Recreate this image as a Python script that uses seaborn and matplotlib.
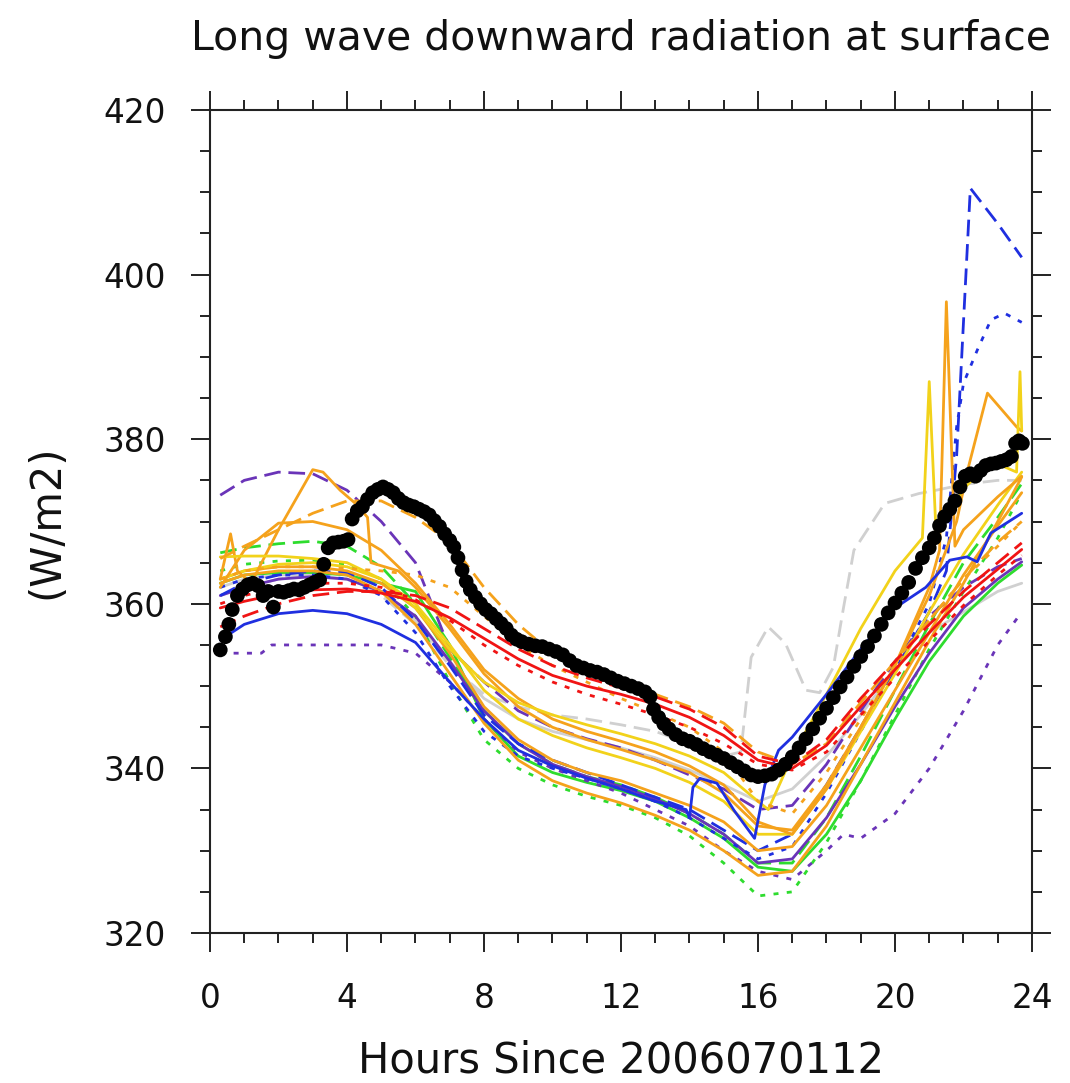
import matplotlib
matplotlib.use("Agg")
import matplotlib.pyplot as plt
from matplotlib.ticker import MultipleLocator
import pandas as pd
import seaborn as sns

# ---------------------------------------------------------------------------
# Hourly model output (W/m2) on a common time axis
# ---------------------------------------------------------------------------
hours = [0.3, 1, 2, 3, 4, 5, 6, 7, 8, 9, 10, 11, 12, 13, 14, 15, 16, 17, 18,
         19, 20, 21, 22, 23, 23.7]

red_dash = [357.2, 358.5, 360.0, 361.0, 361.5, 361.5, 361.0, 359.5, 357.0, 354.5,
            352.5, 351.0, 349.8, 348.7, 347.2, 345.0, 341.5, 340.5, 343.5, 348.5,
            353.0, 357.5, 361.5, 365.0, 367.4]
red_solid = [359.5, 360.3, 361.2, 361.7, 361.8, 361.3, 360.3, 358.3, 355.8, 353.3,
             351.3, 350.0, 349.0, 347.8, 346.2, 344.0, 341.0, 340.0, 342.8, 347.5,
             352.0, 356.5, 360.8, 364.2, 366.6]
red_dot = [360.0, 361.0, 362.0, 362.5, 362.5, 362.0, 360.5, 358.0, 355.0, 352.5,
           350.5, 349.0, 347.8, 346.5, 345.0, 343.0, 340.5, 339.8, 342.0, 346.5,
           351.0, 355.5, 359.8, 363.5, 365.9]
orange_dot = [363.0, 364.0, 364.5, 364.5, 364.3, 364.0, 363.5, 362.0, 358.5, 355.0,
              352.5, 350.5, 348.5, 346.8, 345.0, 342.0, 336.0, 334.5, 339.5, 346.0,
              352.5, 358.0, 363.0, 367.0, 370.0]
orange_dash = [365.5, 367.0, 369.0, 371.0, 372.5, 372.5, 370.5, 367.5, 362.0, 357.5,
               354.0, 352.0, 350.5, 349.0, 347.5, 345.5, 342.0, 340.5, 343.0, 348.0,
               353.0, 358.0, 363.0, 367.5, 370.0]
orange_c = [363.0, 364.0, 364.5, 364.5, 364.0, 362.5, 359.5, 354.0, 347.5, 343.5,
            341.0, 339.5, 338.5, 337.0, 335.5, 333.5, 330.0, 330.5, 335.5, 342.5,
            349.5, 356.5, 363.5, 369.5, 373.5]
orange_d = [362.5, 363.5, 364.0, 364.0, 363.5, 361.5, 357.5, 351.5, 345.5, 341.0,
            338.5, 337.0, 335.8, 334.3, 332.5, 330.0, 327.0, 327.5, 333.0, 340.5,
            348.0, 355.5, 362.5, 370.0, 375.4]
yellow_b = [363.0, 364.0, 364.8, 365.0, 364.5, 363.0, 360.0, 355.0, 349.5, 346.0,
            344.0, 342.5, 341.3, 340.0, 338.3, 336.0, 332.0, 332.0, 337.5, 344.5,
            351.5, 359.0, 366.0, 372.0, 376.0]
green_solid = [362.5, 363.5, 363.8, 363.8, 363.5, 362.5, 361.5, 355.0, 346.0, 341.5,
               339.5, 338.3, 337.3, 336.0, 334.0, 331.5, 328.0, 327.5, 332.0, 338.5,
               346.0, 353.0, 358.5, 362.5, 364.7]
green_dash = [366.2, 366.8, 367.3, 367.6, 367.0, 364.5, 360.0, 353.5, 347.0, 343.0,
              340.5, 339.0, 338.0, 336.5, 334.5, 332.0, 328.5, 328.5, 334.0, 341.5,
              349.5, 357.5, 365.0, 370.5, 374.6]
green_dot = [364.0, 364.8, 365.2, 365.3, 364.8, 363.0, 358.5, 350.5, 343.5, 340.0,
             338.0, 336.6, 335.5, 334.0, 331.8, 328.5, 324.5, 325.0, 331.0, 338.5,
             346.5, 354.5, 361.5, 368.0, 373.5]
purple_solid = [361.0, 362.0, 363.0, 363.3, 363.0, 361.5, 358.5, 353.0, 347.0, 343.0,
                340.5, 339.0, 337.8, 336.3, 334.5, 332.0, 328.5, 329.0, 334.0, 340.5,
                347.5, 354.0, 359.5, 363.0, 365.1]
purple_dash = [373.2, 375.0, 376.0, 375.8, 373.8, 370.0, 365.0, 354.5, 350.5, 347.0,
               345.0, 343.6, 342.5, 341.0, 339.2, 337.5, 335.0, 335.5, 340.5, 347.0,
               353.0, 358.5, 362.0, 364.5, 365.5]
gray_solid = [362.0, 363.0, 363.5, 363.5, 363.0, 361.5, 358.0, 353.0, 348.5, 346.0,
              344.5, 343.5, 342.5, 341.3, 339.8, 338.0, 336.0, 337.5, 341.5, 346.5,
              352.0, 356.5, 359.0, 361.5, 362.5]

# Runs with their own time stamps (sharp spikes late in the day)
orange_a_hours = [0.3, 0.6, 0.8, 1.2, 2.0, 3.0, 3.3, 3.8, 4.3, 4.6, 4.7, 5.5, 6, 7,
                  8, 9, 10, 11, 12, 13, 14, 15, 16, 17, 18, 19, 20, 21, 21.3, 21.5,
                  21.75, 22, 23, 23.7]
orange_a = [363.0, 368.5, 364.0, 362.5, 369.0, 376.3, 376.0, 373.8, 372.0, 370.5,
            365.0, 364.0, 362.0, 357.0, 351.5, 347.5, 345.0, 343.5, 342.3, 341.0,
            339.5, 337.0, 333.0, 332.5, 338.0, 345.0, 352.5, 362.0, 366.5, 396.7,
            367.0, 369.0, 373.0, 375.5]

orange_b_hours = [0.3, 1, 2, 3, 4, 5, 6, 7, 8, 9, 10, 11, 12, 13, 14, 15, 16, 17,
                  18, 19, 20, 21, 21.8, 22.1, 22.7, 23.55, 23.7]
orange_b = [362.0, 366.5, 369.8, 370.0, 369.0, 366.5, 362.5, 357.5, 352.0, 348.5,
            346.0, 344.5, 343.3, 342.0, 340.3, 338.0, 333.5, 332.0, 337.5, 345.0,
            352.5, 361.0, 370.0, 375.9, 385.6, 381.5, 381.0]

yellow_a_hours = [0.3, 1, 2, 3, 4, 5, 6, 7, 8, 9, 10, 11, 12, 13, 14, 15, 16, 16.3,
                  17, 18, 19, 20, 20.8, 21.0, 21.2, 21.6, 22, 22.5, 23, 23.55,
                  23.65, 23.7]
yellow_a = [365.7, 365.8, 365.8, 365.5, 365.0, 363.0, 359.5, 354.5, 350.5, 348.0,
            346.5, 345.3, 344.2, 343.0, 341.5, 339.5, 336.0, 335.0, 341.5, 349.0,
            357.0, 364.0, 368.0, 387.0, 368.5, 371.0, 374.0, 376.0, 377.0, 376.0,
            388.2, 381.0]

blue_solid_hours = [0.3, 1, 2, 3, 4, 5, 6, 7, 8, 9, 10, 11, 12, 13, 13.9, 14.0, 14.1,
                    14.3, 14.8, 15.3, 15.9, 16.2, 16.6, 17, 18, 19, 20, 20.9, 21.6,
                    22.1, 22.4, 22.8, 23.7]
blue_solid = [355.6, 357.5, 358.8, 359.2, 358.8, 357.5, 355.3, 350.5, 346.0, 342.2,
              340.3, 338.8, 337.5, 336.0, 335.0, 334.0, 337.7, 338.8, 338.2, 334.9,
              331.5, 338.0, 342.2, 343.8, 349.0, 354.5, 359.5, 362.0, 365.3, 365.7,
              365.1, 368.6, 371.0]

blue_dash_hours = [0.3, 1, 2, 3, 4, 5, 6, 7, 8, 9, 10, 11, 12, 13, 14, 15, 16, 17,
                   18, 19, 20, 21, 21.5, 21.8, 22.2, 23.0, 23.7]
blue_dash = [361.0, 362.5, 363.5, 364.0, 363.8, 362.0, 358.0, 352.5, 346.5, 343.0,
             341.0, 339.5, 338.0, 336.5, 335.0, 332.5, 330.0, 332.0, 338.0, 345.0,
             352.0, 359.0, 364.0, 378.0, 410.5, 406.2, 402.1]

blue_dot_hours = [0.3, 1, 2, 3, 4, 5, 6, 7, 8, 9, 10, 11, 12, 13, 14, 15, 16, 17,
                  18, 19, 20, 21, 21.5, 21.8, 22.0, 22.4, 22.8, 23.2, 23.7]
blue_dot = [362.0, 363.0, 363.5, 363.5, 363.0, 361.0, 356.5, 350.0, 344.5, 341.5,
            340.0, 338.8, 337.5, 336.0, 334.0, 331.5, 329.0, 330.5, 337.0, 344.5,
            352.0, 360.0, 368.0, 381.5, 386.8, 390.8, 394.5, 395.3, 394.2]

purple_dot_hours = [0.3, 1.5, 1.8, 2, 3, 4, 5, 6, 7, 8, 9, 10, 11, 12, 13, 14, 15,
                    16, 17, 18, 18.5, 19, 20, 21, 22, 23, 23.7]
purple_dot = [354.0, 354.0, 355.0, 355.0, 355.0, 355.0, 355.0, 354.0, 350.5, 346.0,
              342.0, 340.0, 338.5, 337.0, 335.0, 333.0, 330.0, 327.5, 326.5, 330.0,
              332.0, 331.5, 334.5, 340.0, 347.0, 355.0, 359.0]

gray_dash_hours = [0.3, 1, 2, 3, 4, 5, 6, 7, 8, 9, 10, 11, 12, 13, 14, 15, 15.5,
                   15.8, 16.3, 16.8, 17.4, 17.8, 18.2, 18.5, 18.8, 19.7, 20.7, 21.2,
                   22, 23, 23.7]
gray_dash = [361.0, 362.0, 363.0, 363.5, 363.0, 361.0, 357.5, 352.5, 349.0, 347.5,
             346.5, 346.0, 345.3, 344.5, 343.0, 341.5, 342.0, 353.5, 357.2, 355.2,
             349.5, 349.2, 352.3, 359.6, 366.5, 372.2, 373.4, 373.8, 374.5, 375.0,
             375.0]

# Observed downward long-wave radiation (station)
obs_hours = [0.30, 0.45, 0.55, 0.65, 0.80, 0.95, 1.10, 1.25, 1.40, 1.55, 1.70, 1.85,
             2.00, 2.15, 2.30, 2.45, 2.60, 2.75, 2.90, 3.05, 3.20, 3.32, 3.45, 3.60,
             3.75, 3.90, 4.03, 4.15, 4.30, 4.45, 4.60, 4.75, 4.90, 5.05, 5.20, 5.35,
             5.50, 5.65, 5.80, 5.95, 6.10, 6.25, 6.40, 6.55, 6.70, 6.85, 7.00, 7.12,
             7.24, 7.36, 7.48, 7.60, 7.75, 7.90, 8.05, 8.20, 8.35, 8.50, 8.65, 8.80,
             8.95, 9.10, 9.30, 9.50, 9.70, 9.90, 10.10, 10.30, 10.50, 10.70, 10.90,
             11.10, 11.30, 11.50, 11.70, 11.90, 12.10, 12.30, 12.50, 12.70, 12.85,
             12.95, 13.10, 13.25, 13.40, 13.60, 13.80, 14.00, 14.20, 14.40, 14.60,
             14.80, 15.00, 15.20, 15.40, 15.60, 15.80, 16.00, 16.20, 16.40, 16.60,
             16.80, 17.00, 17.20, 17.40, 17.60, 17.80, 18.00, 18.20, 18.40, 18.60,
             18.80, 19.00, 19.20, 19.40, 19.60, 19.80, 20.00, 20.20, 20.40, 20.60,
             20.80, 21.00, 21.15, 21.30, 21.45, 21.60, 21.75, 21.90, 22.05, 22.20,
             22.35, 22.50, 22.65, 22.80, 22.95, 23.10, 23.25, 23.40, 23.52, 23.62,
             23.72]
obs_lwd = [354.4, 356.0, 357.5, 359.3, 361.0, 361.8, 362.3, 362.5, 362.2, 361.0, 361.5,
           359.6, 361.5, 361.4, 361.6, 361.8, 361.7, 362.0, 362.3, 362.6, 362.9, 364.8,
           366.8, 367.4, 367.5, 367.6, 367.8, 370.3, 371.3, 371.8, 372.7, 373.5, 373.9,
           374.2, 373.9, 373.5, 372.8, 372.3, 372.0, 371.8, 371.5, 371.2, 370.8, 370.1,
           369.4, 368.5, 367.7, 366.9, 365.6, 364.1, 362.7, 361.7, 360.8, 360.0, 359.3,
           358.8, 358.2, 357.6, 357.0, 356.2, 355.7, 355.4, 355.1, 354.9, 354.8, 354.5,
           354.2, 353.8, 353.1, 352.5, 352.2, 351.9, 351.7, 351.4, 351.0, 350.6, 350.3,
           350.0, 349.7, 349.3, 348.7, 347.2, 346.2, 345.4, 344.8, 344.1, 343.6, 343.3,
           342.9, 342.4, 342.0, 341.6, 341.2, 340.7, 340.2, 339.7, 339.2, 339.0, 339.1,
           339.3, 339.8, 340.5, 341.4, 342.5, 343.6, 344.8, 346.1, 347.3, 348.6, 349.9,
           351.1, 352.4, 353.6, 354.8, 356.1, 357.5, 358.9, 360.1, 361.3, 362.6, 364.3,
           365.6, 366.8, 368.0, 369.5, 370.6, 371.5, 372.5, 374.2, 375.5, 375.8, 375.5,
           376.2, 376.8, 377.0, 377.1, 377.3, 377.5, 377.9, 379.5, 379.8, 379.5]

x_ticks = [0, 4, 8, 12, 16, 20, 24]
y_ticks = [320, 340, 360, 380, 400, 420]

# run name -> (times, values, colour, line style)
RED, ORANGE, YELLOW = "#f01414", "#f5a21c", "#f2d21a"
GREEN, BLUE, PURPLE, GRAY = "#2edc2e", "#1f2fe0", "#6a34b8", "#d0d0d0"
runs = [
    ("gray_solid", hours, gray_solid, GRAY, "solid"),
    ("gray_dash", gray_dash_hours, gray_dash, GRAY, "dash"),
    ("green_dot", hours, green_dot, GREEN, "dot"),
    ("green_solid", hours, green_solid, GREEN, "solid"),
    ("green_dash", hours, green_dash, GREEN, "dash"),
    ("purple_dot", purple_dot_hours, purple_dot, PURPLE, "dot"),
    ("purple_solid", hours, purple_solid, PURPLE, "solid"),
    ("purple_dash", hours, purple_dash, PURPLE, "dash"),
    ("blue_dot", blue_dot_hours, blue_dot, BLUE, "dot"),
    ("blue_dash", blue_dash_hours, blue_dash, BLUE, "dash"),
    ("orange_d", hours, orange_d, ORANGE, "solid"),
    ("orange_c", hours, orange_c, ORANGE, "solid"),
    ("yellow_b", hours, yellow_b, YELLOW, "solid"),
    ("orange_b", orange_b_hours, orange_b, ORANGE, "solid"),
    ("orange_a", orange_a_hours, orange_a, ORANGE, "solid"),
    ("yellow_a", yellow_a_hours, yellow_a, YELLOW, "solid"),
    ("blue_solid", blue_solid_hours, blue_solid, BLUE, "solid"),
    ("orange_dash", hours, orange_dash, ORANGE, "dash"),
    ("orange_dot", hours, orange_dot, ORANGE, "dot"),
    ("red_dot", hours, red_dot, RED, "dot"),
    ("red_solid", hours, red_solid, RED, "solid"),
    ("red_dash", hours, red_dash, RED, "dash"),
]
dash_patterns = {"solid": "", "dash": (6.0, 2.8), "dot": (1.8, 3.0)}

frames = []
for name, t, v, _, _ in runs:
    assert len(t) == len(v), name
    frames.append(pd.DataFrame({"hour": t, "lwd": v, "run": name}))
models = pd.concat(frames, ignore_index=True)
palette = {name: c for name, _, _, c, _ in runs}
dashes = {name: dash_patterns[s] for name, _, _, _, s in runs}
obs = pd.DataFrame({"hour": obs_hours, "lwd": obs_lwd})

sns.set_theme(style="ticks")
plt.rcParams["font.family"] = ["DejaVu Sans"]

fig = plt.figure(figsize=(10.7, 10.83), dpi=100)
ax = fig.add_axes([0.19626, 0.13850, 0.76822, 0.75992])

sns.lineplot(data=models, x="hour", y="lwd", hue="run", style="run",
             hue_order=[r[0] for r in runs], style_order=[r[0] for r in runs],
             palette=palette, dashes=dashes, sort=False, estimator=None,
             linewidth=2.0, legend=False, ax=ax)
sns.scatterplot(data=obs, x="hour", y="lwd", color="black", s=112,
                edgecolor="none", linewidth=0, zorder=5, ax=ax)

ax.set_xlim(0, 24)
ax.set_ylim(320, 420)
ax.set_xticks(x_ticks)
ax.set_yticks(y_ticks)
ax.xaxis.set_minor_locator(MultipleLocator(1))
ax.yaxis.set_minor_locator(MultipleLocator(5))
ax.tick_params(which="both", direction="out", top=True, right=True,
               color="#222222", width=1.4)
ax.tick_params(which="major", length=14)
ax.tick_params(which="minor", length=7)
ax.tick_params(axis="x", which="major", labelsize=23.5, pad=21, labelcolor="#111111")
ax.tick_params(axis="y", which="major", labelsize=23.5, pad=18, labelcolor="#111111")
for sp in ax.spines.values():
    sp.set_linewidth(1.5)
    sp.set_color("#222222")

ax.set_xlabel("Hours Since 2006070112", fontsize=30, color="#111111")
ax.set_ylabel("(W/m2)", fontsize=30, color="#111111")
ax.xaxis.set_label_coords(0.5, -0.130)
ax.yaxis.set_label_coords(-0.174, 0.5)

fig.text(0.5804, 1 - 50 / 1083, "Long wave downward radiation at surface",
         ha="center", va="baseline", fontsize=29.5, color="#111111")

fig.savefig("out.png", dpi=100, facecolor="white")
